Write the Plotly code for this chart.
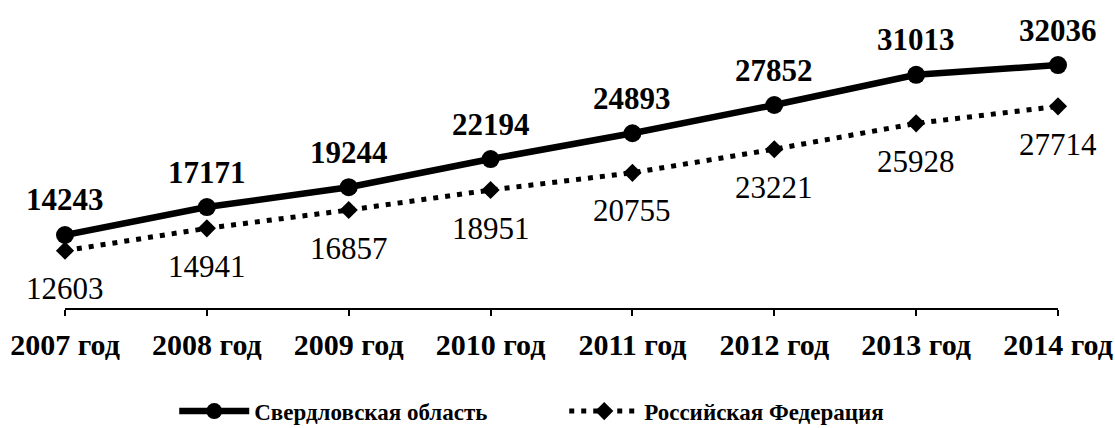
import plotly.graph_objects as go

years = ["2007 год", "2008 год", "2009 год", "2010 год", "2011 год", "2012 год", "2013 год", "2014 год"]
sverdlovsk = [14243, 17171, 19244, 22194, 24893, 27852, 31013, 32036]
russia = [12603, 14941, 16857, 18951, 20755, 23221, 25928, 27714]

FONT = "Liberation Serif"

fig = go.Figure()
fig.add_trace(go.Scatter(
    x=years, y=sverdlovsk, name="Свердловская область",
    mode="lines+markers",
    line=dict(color="black", width=6.5),
    marker=dict(symbol="circle", size=18, color="black"),
    cliponaxis=False,
))
fig.add_trace(go.Scatter(
    x=years, y=russia, name="Российская Федерация",
    mode="lines+markers",
    line=dict(color="black", width=5, dash="5px,7px"),
    marker=dict(symbol="diamond", size=14, color="black"),
    cliponaxis=False,
))

annotations = []
for x, v in zip(years, sverdlovsk):
    annotations.append(dict(x=x, y=v, xref="x", yref="y", text=f"<b>{v}</b>",
                            showarrow=False, yshift=35,
                            font=dict(family=FONT, size=31, color="black")))
for x, v in zip(years, russia):
    annotations.append(dict(x=x, y=v, xref="x", yref="y", text=str(v),
                            showarrow=False, yshift=-38,
                            font=dict(family=FONT, size=31, color="black")))

fig.update_layout(
    width=1115, height=428,
    margin=dict(l=65, r=57, t=20, b=120, autoexpand=False),
    paper_bgcolor="white", plot_bgcolor="white",
    font=dict(family=FONT, color="black"),
    showlegend=True,
    hovermode=False,
    annotations=annotations,
    legend=dict(orientation="h", x=0.11, xanchor="left", y=-0.358, yanchor="middle",
                font=dict(family=FONT, size=23, color="black", weight="bold"),
                itemwidth=70, entrywidthmode="pixels", entrywidth=305),
    xaxis=dict(type="category", range=[0, 7], showgrid=False, zeroline=False,
               showline=True, linecolor="black", linewidth=2,
               ticks="outside", ticklen=6, tickwidth=2, tickcolor="black",
               ticklabelstandoff=3,
               tickfont=dict(family=FONT, size=30, color="black", weight="bold")),
    yaxis=dict(range=[6600, 36750], visible=False, showgrid=False, zeroline=False),
)

fig.write_html("out.html", config={"displayModeBar": False},
               post_script="document.body.style.margin='0';document.body.style.overflow='hidden';")
